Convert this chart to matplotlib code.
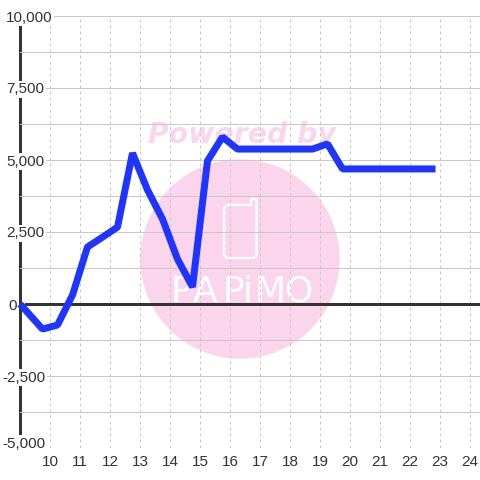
import numpy as np
import matplotlib
matplotlib.use('Agg')
import matplotlib.pyplot as plt
from matplotlib.patches import Circle, Polygon

hours = [9.0, 9.75, 10.25, 10.75, 11.25, 11.75, 12.25, 12.75, 13.25, 13.75, 14.25, 14.75, 15.25, 15.75,
         16.25, 16.75, 17.25, 17.75, 18.25, 18.75, 19.25, 19.75, 20.25, 20.75, 21.25, 21.75, 22.25, 22.85]
values = [0, -870, -730, 310, 1980, 2320, 2670, 5240, 3960, 2950, 1560, 590, 4970, 5800,
          5380, 5380, 5380, 5380, 5380, 5380, 5560, 4690, 4690, 4690, 4690, 4690, 4690, 4690]
x_ticks = list(range(10, 25))
y_ticks = [10000, 7500, 5000, 2500, 0, -2500, -5000]
y_minor = [8750, 6250, 3750, 1250, -1250, -3750]
# px from the axis to the left edge of each label, the chart does not right align them
y_pads = [14, 14, 14, 14, 12, 18, 18]

grey = '#c8c8c8'
dark = '#333333'
pink = '#fbd5ec'
blue = '#1f35ff'
px = 72 / 100.

plt.rcParams['font.family'] = ['Liberation Sans', 'DejaVu Sans']

fig = plt.figure(figsize=(4.8, 4.8), dpi=100)
ax = fig.add_axes([20 / 480, 32 / 480, 460 / 480, 432 / 480])
ax.patch.set_alpha(0)

# watermark, sits behind the axes
fig.add_artist(Circle((240 / 480, 221 / 480), 99 / 480, color=pink, zorder=-3, transform=fig.transFigure))
fig.text(242 / 480, 345 / 480, 'Powered by', color=pink, fontsize=20.4, family='DejaVu Sans',
         weight='bold', style='oblique', ha='center', va='center', zorder=-3)
phone = np.array([(227, 222), (253.5, 222), (256.5, 225), (256.5, 281), (251, 281), (251, 275), (227, 275),
                  (224, 272), (224, 225)]) / 480.
fig.add_artist(Polygon(phone, closed=True, fc='none', ec='white', lw=1.7, joinstyle='round', zorder=-2,
                       transform=fig.transFigure))
for c, xp in zip('PAPiMO', [181, 205, 233, 248, 270, 299]):
    fig.text(xp / 480, 178 / 480, c, color='white', fontsize=26, family='Liberation Sans Narrow',
             ha='center', va='baseline', zorder=-2)

ax.plot(hours, values, color=blue, lw=7 * px, solid_joinstyle='bevel', solid_capstyle='butt', clip_on=False, zorder=5)
ax.axhline(0, xmin=6 / 460, color=dark, lw=3 * px, zorder=1)

ax.set_xlim(9, 9 + 460 / 30.)
ax.set_ylim(-5000, 10000)
ax.set_xticks(x_ticks)
ax.set_yticks(y_ticks)
ax.set_yticklabels(['{:,}'.format(v) for v in y_ticks], ha='left', color=dark, fontsize=11,
                   bbox=dict(fc='white', ec='none', pad=1.2))
ax.set_yticks(y_minor, minor=True)
ax.tick_params(axis='x', length=0, pad=5, labelsize=11, labelcolor=dark)
ax.tick_params(axis='y', which='both', length=0)
for tick, pad in zip(ax.yaxis.get_major_ticks(), y_pads):
    tick.set_pad(pad * px)
# bottom label sits above its line
ax.yaxis.get_major_ticks()[-1].label1.set_va('baseline')
ax.grid(axis='y', which='both', color=grey, lw=1 * px)
ax.grid(axis='x', color=grey, lw=1 * px, dashes=(3, 3))
ax.set_axisbelow(True)

for side in ['top', 'right', 'bottom']:
    ax.spines[side].set_visible(False)
ax.spines['left'].set_color(dark)
ax.spines['left'].set_linewidth(3 * px)
ax.spines['left'].set_zorder(0.4)

plt.savefig('out.png', dpi=100)
